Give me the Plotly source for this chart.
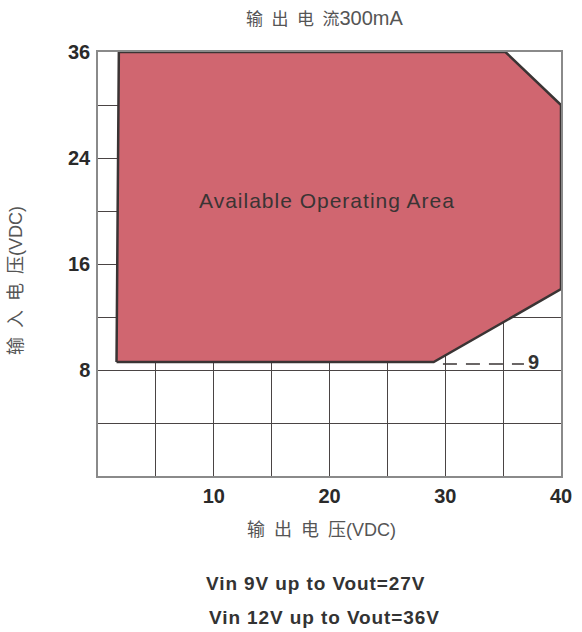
import numpy as np
import plotly.graph_objects as go

# ---- data ----
# Operating-area polygon: output voltage (Vout) vs input voltage (Vin)
area_vout = [1.6, 29.0, 40.0, 40.0, 35.2, 1.8, 1.6]
area_vin = [8.6, 8.6, 14.1, 30.0, 36.0, 36.0, 8.6]

# dashed 9V reference line
dash_vout = [29.8, 36.8]
dash_vin = [8.45, 8.45]
dash_label = "9"
dash_label_vout = 37.6

# axis ticks
x_grid = [0, 5, 10, 15, 20, 25, 30, 35, 40]
x_labels = ["", "", "10", "", "20", "", "30", "", "40"]
y_scale_vin = [0, 8, 16, 24, 36]          # labelled input voltages
y_scale_pos = [0, 2, 4, 6, 8]             # their grid rows (non-linear axis)
y_grid = [0, 1, 2, 3, 4, 5, 6, 7, 8]
y_labels = ["", "", "8", "", "16", "", "24", "", "36"]

title_cn = "输\u2002出\u2002电\u2002流"
title_en = "300mA"
x_title = "输\u2002出\u2002电\u2002压(VDC)"
y_title = "输\u2002入\u2002电\u2002压(VDC)"
area_text = "Available Operating Area"
notes = ["Vin 9V up to Vout=27V", "Vin 12V up to Vout=36V"]


def ypos(v):
    return list(np.interp(v, y_scale_vin, y_scale_pos))


FONT = "Liberation Sans, Arial, Noto Sans CJK SC, sans-serif"
W, H = 582, 632
L, R, T, B = 98, 10, 52, 156
PW, PH = W - L - R, H - T - B


def px(x):
    return (x - L) / PW


def py(y):
    return (H - B - y) / PH


fig = go.Figure()
fig.add_trace(go.Scatter(
    x=area_vout, y=ypos(area_vin), mode="lines", fill="toself",
    fillcolor="#d06670", line=dict(color="#3a3434", width=2.5),
    hoverinfo="skip", showlegend=False))
fig.add_trace(go.Scatter(
    x=dash_vout, y=ypos(dash_vin), mode="lines",
    line=dict(color="#3a3434", width=1.5, dash="14px,9px"),
    hoverinfo="skip", showlegend=False))

C = dict(xanchor="center", yanchor="middle", showarrow=False)
fig.add_annotation(x=dash_label_vout, y=ypos([dash_vin[0]])[0], text="<b>" + dash_label + "</b>",
                   font=dict(family=FONT, size=20, color="#333"), yshift=2, **C)
fig.add_annotation(x=19.8, y=5.19, text="<span style='letter-spacing:1px'>" + area_text + "</span>",
                   font=dict(family=FONT, size=21, color="#3a3434"), **C)

fig.add_annotation(xref="paper", yref="paper", x=px(330), y=py(18),
                   text="<span style='font-size:17px'>" + title_cn + "</span>" + title_en,
                   font=dict(family=FONT, size=20, color="#555"), **C)
fig.add_annotation(xref="paper", yref="paper", x=px(327), y=py(530),
                   text=x_title, font=dict(family=FONT, size=18, color="#555"), **C)
fig.add_annotation(xref="paper", yref="paper", x=px(14), y=py(280),
                   text=y_title, textangle=-90,
                   font=dict(family=FONT, size=18, color="#555"), **C)
for txt, (cx, cy) in zip(notes, [(321, 583), (330, 617)]):
    fig.add_annotation(xref="paper", yref="paper", x=px(cx), y=py(cy),
                       text="<b><span style='letter-spacing:0.9px'>" + txt + "</span></b>",
                       font=dict(family=FONT, size=19, color="#333"), **C)

fig.update_xaxes(range=[0, 40], tickvals=x_grid, ticktext=x_labels,
                 showgrid=True, gridcolor="#4a4444", gridwidth=1.2,
                 showline=True, mirror=True, linecolor="#8a8a8a", linewidth=1.5,
                 zeroline=False, ticks="", ticklabelstandoff=1, layer="below traces",
                 tickfont=dict(family=FONT, size=20, color="#2a2a2a", weight="bold"))
fig.update_yaxes(range=[0, 8], tickvals=y_grid, ticktext=y_labels,
                 showgrid=True, gridcolor="#4a4444", gridwidth=1.2,
                 showline=True, mirror=True, linecolor="#8a8a8a", linewidth=1.5,
                 zeroline=False, ticks="", ticklabelstandoff=2, layer="below traces",
                 tickfont=dict(family=FONT, size=20, color="#2a2a2a", weight="bold"))
fig.update_layout(width=W, height=H, margin=dict(l=L, r=R, t=T, b=B),
                  plot_bgcolor="white", paper_bgcolor="white", showlegend=False)
fig.write_html("out.html", config={"displayModeBar": False})

# remove the browser's default body margin so the figure sits at the page origin
with open("out.html", encoding="utf-8") as f:
    html = f.read()
html = html.replace("<head>", "<head><style>html,body{margin:0;padding:0;overflow:hidden}</style>", 1)
with open("out.html", "w", encoding="utf-8") as f:
    f.write(html)
